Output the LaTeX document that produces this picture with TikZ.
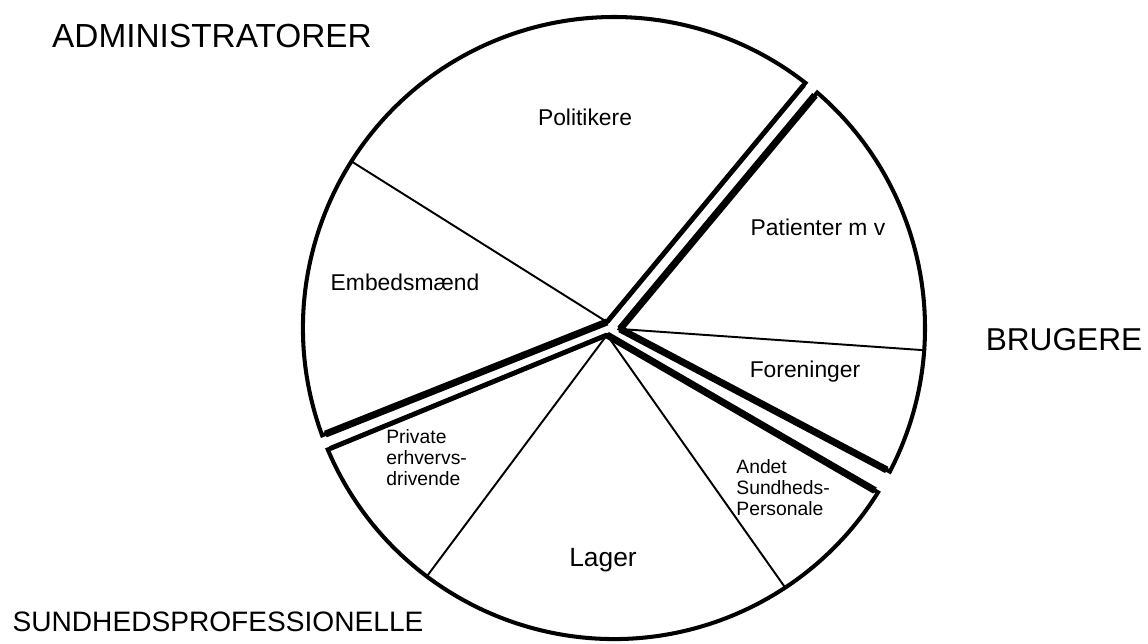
\documentclass[tikz,border=0pt]{standalone}
\usepackage{fontspec}
\setmainfont{Liberation Sans}
\usetikzlibrary{calc}
\begin{document}
\begin{tikzpicture}[x=0.02cm,y=0.02cm,
  rim/.style={line width=2.3pt,line join=miter},
  divider/.style={line width=1.1pt},
  edge/.style={line width=2.8pt,line join=miter,shorten >=1.5pt},
  heavy edge/.style={line width=4pt,line join=miter,shorten >=2pt},
  group/.style={inner sep=0pt,font=\fontsize{19}{22}\selectfont},
  slice/.style={inner sep=0pt,font=\fontsize{13}{15}\selectfont},
  small slice/.style={inner sep=0pt,align=left,font=\fontsize{11}{12}\selectfont}]
\useasboundingbox (0,0) rectangle (1148,644);
\pgfmathsetmacro\rimradius{311}
\coordinate (c) at (614,316);
\coordinate (adm) at (607,322);
\coordinate (bru) at (620,315);
\coordinate (sun) at (607,309);
\foreach \name/\ang in {a1/52,a2/200.2,b1/49.2,b2/-27.5,s1/203,s2/-31.9,d1/147.6,d2/-4.1,d3/-127,d4/-56.6}
  \coordinate (\name) at ($(c)+(\ang:\rimradius)$);
\draw[rim] (adm) -- (a2) arc[start angle=200.2,end angle=52,radius=\rimradius] -- cycle;
\draw[rim] (bru) -- (b1) arc[start angle=49.2,end angle=-27.5,radius=\rimradius] -- cycle;
\draw[rim] (sun) -- (s1) arc[start angle=203,end angle=328.1,radius=\rimradius] -- cycle;
\draw[divider] (adm) -- (d1);
\draw[divider] (bru) -- (d2);
\draw[divider] (sun) -- (d3);
\draw[divider] (sun) -- (d4);
\draw[edge] (adm) -- (a1);
\draw[heavy edge] (adm) -- (a2);
\draw[heavy edge] (bru) -- (b1);
\draw[heavy edge] (bru) -- (b2);
\draw[edge] (sun) -- (s1);
\draw[heavy edge] (sun) -- (s2);
\node[slice] (pol) at (585,527) {Politikere};
\node[slice] (emb) at (405,362) {Embedsmænd};
\node[slice] (pat) at (818,417) {Patienter m v};
\node[slice] (for) at (805,272) {Foreninger};
\node[small slice,anchor=west] (priv) at (386,186) {Private\\erhvervs-\\drivende};
\node[slice,font=\fontsize{15}{17}\selectfont] (lag) at (603,84) {Lager};
\node[small slice,anchor=west] (andet) at (736,156) {Andet\\Sundheds-\\Personale};
\node[group] (admgrp) at (212,608) {ADMINISTRATORER};
\node[group,font=\fontsize{18}{21}\selectfont] (brugrp) at (1064,304) {BRUGERE};
\node[group,font=\fontsize{16}{19}\selectfont] (sungrp) at (218,22) {SUNDHEDSPROFESSIONELLE};
\end{tikzpicture}
\end{document}
